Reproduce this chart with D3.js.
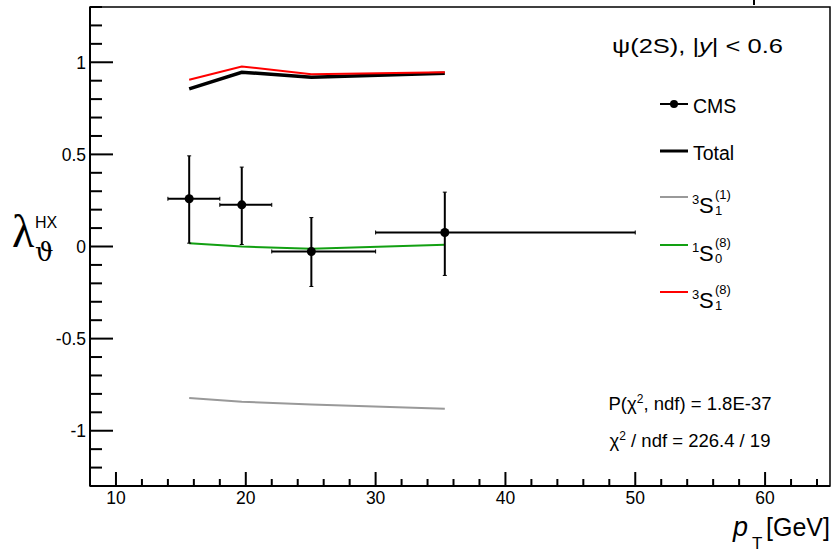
<!doctype html>
<html>
<head>
  <meta charset="utf-8">
  <title>psi(2S) lambda theta HX</title>
  <script src="https://d3js.org/d3.v7.min.js"></script>
  <style>
    body { margin:0; background:#fff; }
    svg { display:block; font-family:"Liberation Sans", Arial, sans-serif; }
  </style>
</head>
<body>
  <svg id="chart" width="832" height="552"></svg>
  <script>
    // CMS data points (pT bin centre, bin edges, lambda, asymmetric errors)
    const ptCenter = [15.64, 19.69, 25.05, 35.33];
    const ptLow    = [14, 18, 22, 30];
    const ptHigh   = [18, 22, 30, 50];
    const lambda   = [0.259, 0.226, -0.027, 0.076];
    const errUp    = [0.233, 0.205, 0.184, 0.219];
    const errDown  = [0.241, 0.215, 0.190, 0.233];

    // theory curves, evaluated at the same pT
    const total  = [0.856, 0.946, 0.919, 0.941];
    const cs3S1  = [-0.823, -0.843, -0.857, -0.881];
    const co1S0  = [0.018, 0.000, -0.012, 0.009];
    const co3S1  = [0.905, 0.977, 0.935, 0.946];

    const xMajor = [10, 20, 30, 40, 50, 60];
    const yMajor = [-1, -0.5, 0, 0.5, 1];

    const svg = d3.select("#chart");
    const x = d3.scaleLinear().domain([8, 65]).range([90, 830]);
    const y = d3.scaleLinear().domain([-1.3, 1.3]).range([486, 7]);

    // frame
    svg.append("rect")
      .attr("x", 90).attr("y", 7)
      .attr("width", 740).attr("height", 479)
      .attr("fill", "none").attr("stroke", "#000").attr("stroke-width", 1.5);
    // stray tick above the frame
    svg.append("line").attr("x1", 754).attr("x2", 754).attr("y1", 0).attr("y2", 5)
      .attr("stroke", "#000").attr("stroke-width", 2);

    // x axis
    const xMinor = d3.range(10, 65, 2).filter(v => !xMajor.includes(v));
    const xAxis = svg.append("g").attr("transform", "translate(0,486)");
    xAxis.append("line").attr("x1", 90).attr("x2", 830).attr("stroke", "#000").attr("stroke-width", 2);
    xAxis.selectAll(".minor").data(xMinor).enter().append("line")
      .attr("x1", d => x(d)).attr("x2", d => x(d)).attr("y1", 0).attr("y2", -7)
      .attr("stroke", "#000").attr("stroke-width", 2);
    xAxis.selectAll(".major").data(xMajor).enter().append("line")
      .attr("x1", d => x(d)).attr("x2", d => x(d)).attr("y1", 0).attr("y2", -14)
      .attr("stroke", "#000").attr("stroke-width", 2);
    xAxis.selectAll("text").data(xMajor).enter().append("text")
      .attr("x", d => x(d)).attr("y", 17.5)
      .attr("text-anchor", "middle").attr("font-size", 17.5)
      .text(d => d);

    // y axis
    const yMinor = d3.range(-13, 14).map(v => v / 10).filter(v => !yMajor.includes(v));
    const yAxis = svg.append("g").attr("transform", "translate(90,0)");
    yAxis.append("line").attr("y1", 7).attr("y2", 486).attr("stroke", "#000").attr("stroke-width", 2);
    yAxis.selectAll(".minor").data(yMinor).enter().append("line")
      .attr("y1", d => y(d)).attr("y2", d => y(d)).attr("x1", 0).attr("x2", 12)
      .attr("stroke", "#000").attr("stroke-width", 2);
    yAxis.selectAll(".major").data(yMajor).enter().append("line")
      .attr("y1", d => y(d)).attr("y2", d => y(d)).attr("x1", 0).attr("x2", 23)
      .attr("stroke", "#000").attr("stroke-width", 2);
    yAxis.selectAll("text").data(yMajor).enter().append("text")
      .attr("x", -4).attr("y", d => y(d) + 6.3)
      .attr("text-anchor", "end").attr("font-size", 17.5)
      .text(d => d3.format("")(d).replace("−", "-"));

    // axis titles
    svg.append("text").attr("x", 12).attr("y", 247)
      .attr("font-family", "'Liberation Serif','DejaVu Serif',serif").attr("font-size", 46)
      .text("λ");
    svg.append("text").attr("x", 35).attr("y", 261)
      .attr("font-family", "'DejaVu Serif','Liberation Serif',serif").attr("font-size", 26)
      .text("ϑ");
    svg.append("text").attr("x", 35).attr("y", 228).attr("font-size", 16).text("HX");

    svg.append("text").attr("x", 733).attr("y", 536)
      .attr("font-size", 27).attr("font-style", "italic").text("p");
    svg.append("text").attr("x", 752).attr("y", 549).attr("font-size", 17).text("T");
    svg.append("text").attr("x", 830).attr("y", 536).attr("text-anchor", "end")
      .attr("font-size", 25).text("[GeV]");

    // theory curves
    const line = d3.line().x((d, i) => x(ptCenter[i])).y(d => y(d));
    const curves = [
      { vals: cs3S1, color: "#999999", w: 2 },
      { vals: co1S0, color: "#12a012", w: 2 },
      { vals: total, color: "#000000", w: 3.5 },
      { vals: co3S1, color: "#ff0000", w: 2 }
    ];
    svg.selectAll(".curve").data(curves).enter().append("path")
      .attr("d", d => line(d.vals))
      .attr("fill", "none").attr("stroke", d => d.color).attr("stroke-width", d => d.w);

    // CMS points with error bars
    const pts = ptCenter.map((c, i) => ({
      c, lo: ptLow[i], hi: ptHigh[i], v: lambda[i], up: errUp[i], dn: errDown[i]
    }));
    const g = svg.append("g").attr("stroke", "#000");
    pts.forEach(p => {
      g.append("line").attr("x1", x(p.lo)).attr("x2", x(p.hi))
        .attr("y1", y(p.v)).attr("y2", y(p.v)).attr("stroke-width", 2);
      g.append("line").attr("x1", x(p.c)).attr("x2", x(p.c))
        .attr("y1", y(p.v + p.up)).attr("y2", y(p.v - p.dn)).attr("stroke-width", 2);
      [x(p.lo), x(p.hi)].forEach(xx => g.append("line")
        .attr("x1", xx).attr("x2", xx).attr("y1", y(p.v) - 2).attr("y2", y(p.v) + 2)
        .attr("stroke-width", 1));
      [y(p.v + p.up), y(p.v - p.dn)].forEach(yy => g.append("line")
        .attr("x1", x(p.c) - 2).attr("x2", x(p.c) + 2).attr("y1", yy).attr("y2", yy)
        .attr("stroke-width", 1));
      g.append("circle").attr("cx", x(p.c)).attr("cy", y(p.v)).attr("r", 4.5)
        .attr("fill", "#000").attr("stroke", "none");
    });

    // legend
    svg.append("text").attr("x", 612).attr("y", 53).attr("font-size", 21)
      .attr("textLength", 171).attr("lengthAdjust", "spacingAndGlyphs")
      .html('ψ(2S), |<tspan font-style="italic">y</tspan>| &lt; 0.6');

    const leg = svg.append("g");
    leg.append("line").attr("x1", 660).attr("x2", 688).attr("y1", 104).attr("y2", 104)
      .attr("stroke", "#000").attr("stroke-width", 2);
    leg.append("circle").attr("cx", 674).attr("cy", 104).attr("r", 4).attr("fill", "#000");
    leg.append("text").attr("x", 693).attr("y", 113).attr("font-size", 19.5).text("CMS");

    leg.append("line").attr("x1", 660).attr("x2", 688).attr("y1", 151).attr("y2", 151)
      .attr("stroke", "#000").attr("stroke-width", 3);
    leg.append("text").attr("x", 693).attr("y", 160).attr("font-size", 19.5).text("Total");

    const stateEntries = [
      { yl: 197, color: "#999999", pre: "3", sub: "1", sup: "(1)" },
      { yl: 245, color: "#12a012", pre: "1", sub: "0", sup: "(8)" },
      { yl: 292, color: "#ff0000", pre: "3", sub: "1", sup: "(8)" }
    ];
    stateEntries.forEach(e => {
      leg.append("line").attr("x1", 660).attr("x2", 688).attr("y1", e.yl).attr("y2", e.yl)
        .attr("stroke", e.color).attr("stroke-width", 2);
      leg.append("text").attr("x", 692).attr("y", e.yl + 7).attr("font-size", 13).text(e.pre);
      leg.append("text").attr("x", 699).attr("y", e.yl + 16).attr("font-size", 22).text("S");
      leg.append("text").attr("x", 715).attr("y", e.yl + 18).attr("font-size", 13).text(e.sub);
      leg.append("text").attr("x", 715).attr("y", e.yl + 2).attr("font-size", 13).text(e.sup);
    });

    // fit statistics
    svg.append("text").attr("x", 690).attr("y", 410).attr("text-anchor", "middle")
      .attr("font-size", 18.5)
      .html('P(χ<tspan font-size="12" dy="-7">2</tspan><tspan dy="7">, ndf) = 1.8E-37</tspan>');
    svg.append("text").attr("x", 690).attr("y", 447).attr("text-anchor", "middle")
      .attr("font-size", 18.5)
      .html('χ<tspan font-size="12" dy="-7">2</tspan><tspan dy="7"> / ndf = 226.4 / 19</tspan>');
  </script>
</body>
</html>
